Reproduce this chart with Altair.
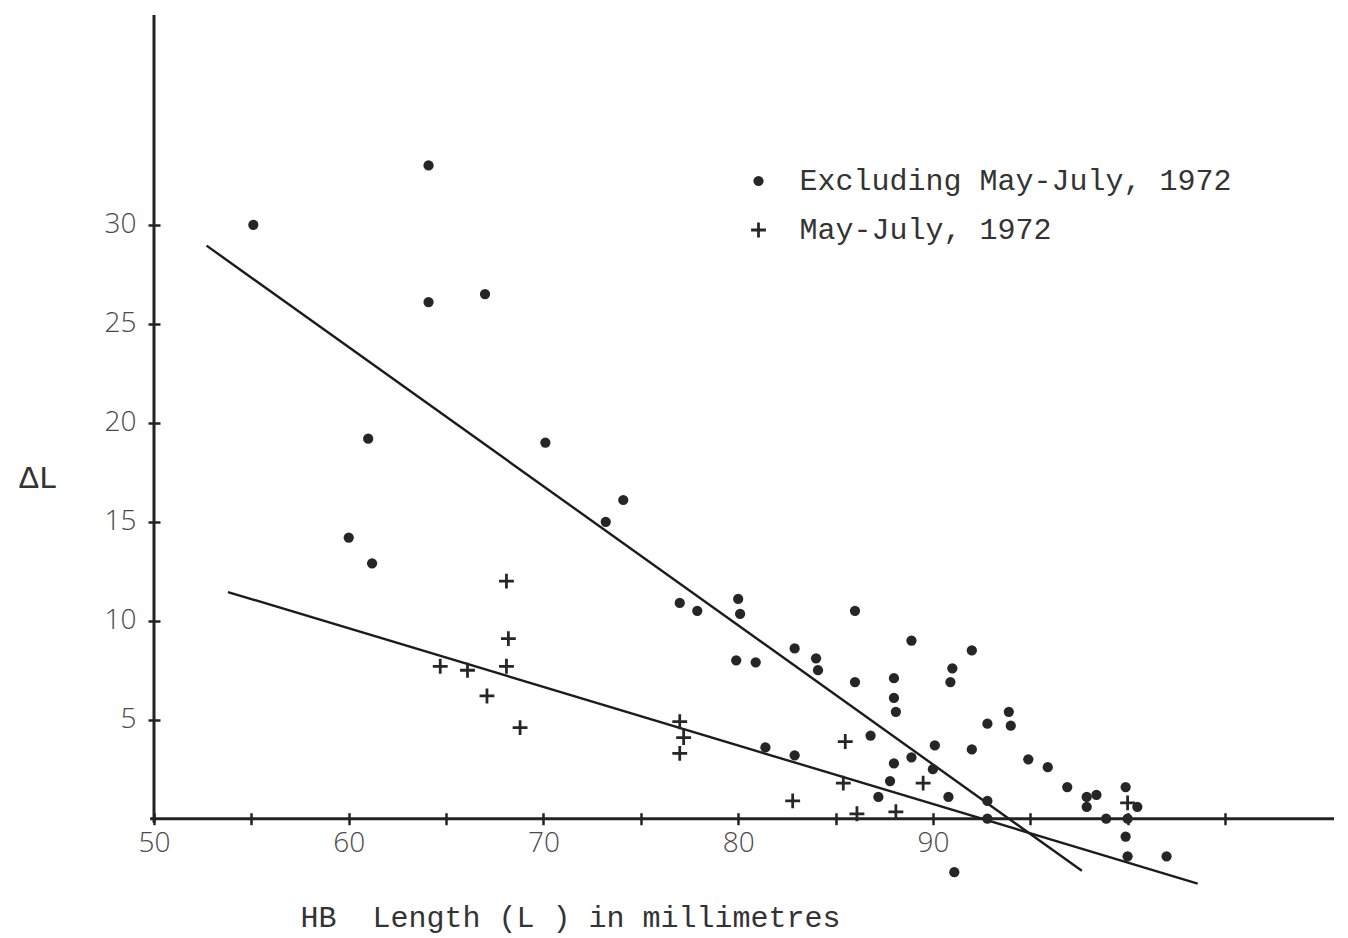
import altair as alt
import pandas as pd

# HB length (L, mm) and growth increment (delta L) for the two groups
dot_x = [55.1, 64.1, 64.1, 67.0, 61.0, 60.0, 61.2, 70.1, 73.2, 74.1,
         77.0, 77.9, 80.0, 80.1, 79.9, 80.9, 82.9, 84.0, 84.1, 86.0,
         86.0, 81.4, 82.9, 86.8, 88.0, 88.0, 88.1, 88.9, 92.0, 91.0,
         90.9, 93.9, 92.8, 94.0, 90.1, 92.0, 94.9, 95.9, 88.0, 88.9,
         90.0, 87.8, 87.2, 90.8, 92.8, 92.8, 96.9, 97.9, 98.4, 97.9,
         99.9, 100.5, 98.9, 100.0, 99.9, 100.0, 102.0, 91.1]
dot_y = [30.0, 33.0, 26.1, 26.5, 19.2, 14.2, 12.9, 19.0, 15.0, 16.1,
         10.9, 10.5, 11.1, 10.35, 8.0, 7.9, 8.6, 8.1, 7.5, 10.5,
         6.9, 3.6, 3.2, 4.2, 7.1, 6.1, 5.4, 9.0, 8.5, 7.6,
         6.9, 5.4, 4.8, 4.7, 3.7, 3.5, 3.0, 2.6, 2.8, 3.1,
         2.5, 1.9, 1.1, 1.1, 0.9, 0.0, 1.6, 1.1, 1.2, 0.6,
         1.6, 0.6, 0.0, 0.0, -0.9, -1.9, -1.9, -2.7]

cross_x = [68.1, 68.2, 64.7, 66.1, 68.1, 67.1, 68.8, 77.0, 77.2, 77.0,
           85.5, 82.8, 85.4, 86.1, 88.1, 89.5, 100.0]
cross_y = [12.0, 9.1, 7.7, 7.5, 7.7, 6.2, 4.6, 4.9, 4.1, 3.3,
           3.9, 0.9, 1.8, 0.25, 0.35, 1.8, 0.8]

series_names = ["Excluding May-July, 1972", "May-July, 1972"]

# fitted lines: start and end points
fit_names = ["excluding", "may_july"]
fit_x0 = [52.7, 53.8]
fit_y0 = [28.95, 11.45]
fit_x1 = [97.65, 103.6]
fit_y1 = [-2.63, -3.28]

# extents of the drawn axis lines
x_axis_extent = [49.8, 110.6]
y_axis_extent = [-0.2, 40.6]

x_ticks = [50, 55, 60, 65, 70, 75, 80, 85, 90, 95, 100, 105]
y_ticks = [5, 10, 15, 20, 25, 30]

x_domain = [50, 110.6]
y_domain = [-3.5, 40.6]

W, H = 1180, 873
INK = "#232323"
LABEL_FONT = "Open Sans"
TYPE_FONT = "Liberation Mono"
TICK_OUT = 6
NBSP = "\u00a0"

points = pd.DataFrame({
    "L": dot_x + cross_x,
    "dL": dot_y + cross_y,
    "series": [series_names[0]] * len(dot_x) + [series_names[1]] * len(cross_x),
})

fits = pd.DataFrame({
    "fit": fit_names * 2,
    "L": fit_x0 + fit_x1,
    "dL": fit_y0 + fit_y1,
})

xscale = alt.Scale(domain=x_domain, nice=False, zero=False)
yscale = alt.Scale(domain=y_domain, nice=False, zero=False)

# the x axis sits on delta L = 0, inside the plot
zero_px = H * (0 - y_domain[0]) / (y_domain[1] - y_domain[0])

x_axis = alt.Axis(
    values=x_ticks, domain=False, grid=False,
    offset=-(zero_px + TICK_OUT),
    tickSize=2 * TICK_OUT, tickWidth=2.5, tickColor=INK,
    labelExpr="datum.value <= 90 && datum.value % 10 == 0 ? datum.label : ''",
    labelFlush=False,
    labelFont=LABEL_FONT, labelFontSize=28, labelFontWeight=300,
    labelColor="#4a4a4a", labelPadding=5,
    title="HB" + NBSP + NBSP + "Length" + NBSP + "(L" + NBSP + ")" + NBSP + "in" + NBSP + "millimetres",
    titleFont=TYPE_FONT, titleFontSize=30, titleFontWeight="normal",
    titleColor="#333333", titleAlign="left", titleBaseline="middle",
    titleX=146, titleY=917 - (15 + H - zero_px - TICK_OUT),
)

y_axis = alt.Axis(
    values=y_ticks, domain=False, grid=False,
    offset=-TICK_OUT,
    tickSize=2 * TICK_OUT, tickWidth=2.5, tickColor=INK,
    labelFont=LABEL_FONT, labelFontSize=28, labelFontWeight=300,
    labelColor="#4a4a4a", labelPadding=12,
    title="ΔL",
    titleFont=TYPE_FONT, titleFontSize=32, titleFontWeight="normal",
    titleColor="#333333", titleAngle=0, titleAlign="center",
    titleBaseline="middle", titleX=-122, titleY=462,
)

plus_path = ("M-0.27,-1.45L0.27,-1.45L0.27,-0.27L1.45,-0.27L1.45,0.27L0.27,0.27L0.27,1.45"
             "L-0.27,1.45L-0.27,0.27L-1.45,0.27L-1.45,-0.27L-0.27,-0.27Z")

MARK_SIZE = 105

scatter = alt.Chart(points).mark_point(
    filled=True, size=MARK_SIZE, color="#262626", opacity=1, strokeWidth=0
).encode(
    x=alt.X("L:Q", scale=xscale, axis=x_axis),
    y=alt.Y("dL:Q", scale=yscale, axis=y_axis),
    shape=alt.Shape(
        "series:N",
        scale=alt.Scale(domain=series_names, range=["circle", plus_path]),
        legend=alt.Legend(
            title=None, orient="none", legendX=589.5, legendY=151,
            padding=0, rowPadding=19, labelOffset=26,
            labelFont=TYPE_FONT, labelFontSize=30, labelColor="#333333",
            labelLimit=800, symbolSize=MARK_SIZE, symbolFillColor="#262626",
            symbolStrokeWidth=0, symbolOpacity=1,
        ),
    ),
)

fit_lines = alt.Chart(fits).mark_line(
    color="#1c1c1c", strokeWidth=2.4
).encode(
    x=alt.X("L:Q", scale=xscale),
    y=alt.Y("dL:Q", scale=yscale),
    detail="fit:N",
)

x_line = alt.Chart(pd.DataFrame({"a": [x_axis_extent[0]], "b": [x_axis_extent[1]], "y": [0]})).mark_rule(
    color=INK, strokeWidth=3
).encode(
    x=alt.X("a:Q", scale=xscale), x2="b:Q", y=alt.Y("y:Q", scale=yscale)
)

y_line = alt.Chart(pd.DataFrame({"x": [x_domain[0]], "a": [y_axis_extent[0]], "b": [y_axis_extent[1]]})).mark_rule(
    color=INK, strokeWidth=3
).encode(
    x=alt.X("x:Q", scale=xscale), y=alt.Y("a:Q", scale=yscale), y2="b:Q"
)

chart = alt.layer(x_line, y_line, fit_lines, scatter).properties(
    width=W, height=H,
    padding={"left": 154, "top": 15, "right": 14, "bottom": 50},
    autosize=alt.AutoSizeParams(type="none"),
    background="white",
).configure_view(stroke=None)

chart.save("out.html", embed_options={"renderer": "svg", "actions": False})
